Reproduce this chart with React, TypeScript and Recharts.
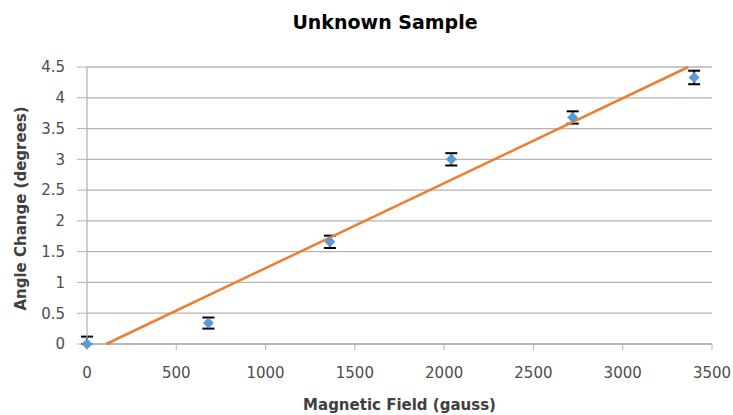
import React from 'react';
import { ScatterChart, Scatter, XAxis, YAxis, CartesianGrid, ErrorBar, Label } from 'recharts';

// Measured points (field in gauss, angle change in degrees)
const fieldValues = [0, 680, 1360, 2040, 2720, 3400];
const angleValues = [0, 0.34, 1.66, 3.0, 3.68, 4.33];
const angleErrors: (number | [number, number])[] = [[0, 0.12], 0.09, 0.1, 0.1, 0.1, 0.11];

// Linear trendline end points
const trendField = [108, 3367];
const trendAngle = [0, 4.5];

const xTicks = [0, 500, 1000, 1500, 2000, 2500, 3000, 3500];
const yTicks = [0, 0.5, 1, 1.5, 2, 2.5, 3, 3.5, 4, 4.5];

const points = fieldValues.map((f, i) => ({ field: f, angle: angleValues[i], err: angleErrors[i] }));
const trend = trendField.map((f, i) => ({ field: f, angle: trendAngle[i] }));

const FONT = '"DejaVu Sans", Verdana, sans-serif';
const GRID = '#b4b4b4';

const Diamond = (props: any) => {
  const { cx, cy } = props;
  if (cx == null || cy == null) return <g />;
  return <polygon points={`${cx},${cy - 5.5} ${cx + 5.5},${cy} ${cx},${cy + 5.5} ${cx - 5.5},${cy}`} fill="#5b9bd5" />;
};

const YTitle = (props: any) => {
  const { viewBox } = props;
  const y = viewBox.y + viewBox.height / 2 + 3;
  return (
    <text x={21} y={y} transform={`rotate(-90, 21, ${y})`} textAnchor="middle" dominantBaseline="central"
      style={{ fontFamily: FONT, fontSize: 15, fontWeight: 'bold', fill: '#404040' }}>
      Angle Change (degrees)
    </text>
  );
};

export default function App() {
  return (
    <div style={{ position: 'absolute', left: 0, top: 0, width: 733, height: 415, background: '#fff' }}>
      <div style={{ position: 'absolute', left: 0, width: 770, top: 13, textAlign: 'center', fontFamily: FONT, fontSize: 19, fontWeight: 'bold', lineHeight: '19px', color: '#000' }}>
        Unknown Sample
      </div>
      <ScatterChart width={733} height={415} margin={{ top: 67, right: 21, left: 0, bottom: 0 }}>
        <CartesianGrid vertical={false} stroke={GRID} strokeWidth={1.3} />
        <XAxis
          type="number"
          dataKey="field"
          domain={[0, 3500]}
          ticks={xTicks}
          height={71}
          tickSize={6}
          tickMargin={17}
          stroke={GRID}
          axisLine={{ stroke: GRID, strokeWidth: 1.3 }}
          tick={{ fill: '#4d4d4d', fontFamily: FONT, fontSize: 15 }}
        >
          <Label value="Magnetic Field (gauss)" position="insideBottom" offset={5}
            style={{ fontFamily: FONT, fontSize: 15, fontWeight: 'bold', fill: '#404040' }} />
        </XAxis>
        <YAxis
          type="number"
          dataKey="angle"
          domain={[0, 4.5]}
          ticks={yTicks}
          width={87}
          tickSize={10}
          tickMargin={12}
          stroke={GRID}
          axisLine={{ stroke: GRID, strokeWidth: 1.3 }}
          tick={{ fill: '#4d4d4d', fontFamily: FONT, fontSize: 15 }}
        >
          <Label content={<YTitle />} />
        </YAxis>
        <Scatter
          data={trend}
          line={{ stroke: '#ed7d31', strokeWidth: 2.5 }}
          shape={() => <g />}
          legendType="none"
          isAnimationActive={false}
        />
        <Scatter data={points} shape={<Diamond />} isAnimationActive={false}>
          <ErrorBar dataKey="err" direction="y" width={6} stroke="#000" strokeWidth={2} />
        </Scatter>
      </ScatterChart>
    </div>
  );
}
